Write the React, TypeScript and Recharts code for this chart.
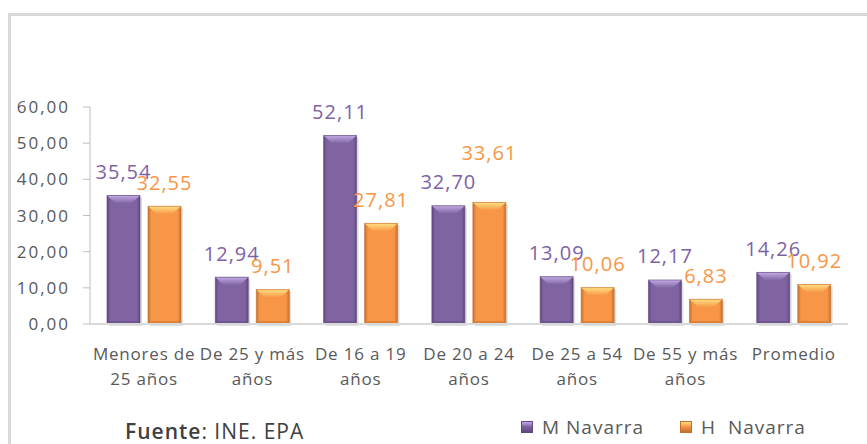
// Tasa de paro por edad, Navarra: mujeres vs hombres (barras biseladas estilo Excel 2007).
import { BarChart, Bar, XAxis, YAxis, LabelList } from "recharts";

const categories: string[][] = [
  ["Menores de", "25 años"],
  ["De 25 y más", "años"],
  ["De 16 a 19", "años"],
  ["De 20 a 24", "años"],
  ["De 25 a 54", "años"],
  ["De 55 y más", "años"],
  ["Promedio"],
];
const mNavarra = [35.54, 12.94, 52.11, 32.7, 13.09, 12.17, 14.26];
const hNavarra = [32.55, 9.51, 27.81, 33.61, 10.06, 6.83, 10.92];
const yTicks = [0, 10, 20, 30, 40, 50, 60];

const data = categories.map((c, i) => ({ cat: c.join(" "), m: mNavarra[i], h: hNavarra[i] }));

const FONT = "'Open Sans', sans-serif";
const GREY = "#595959";
const PURPLE = { base: "#8064A2", light: "#C2ABE4", dark: "#5E4880", text: "#7E62A6" };
const ORANGE = { base: "#F79646", light: "#FFE083", dark: "#C56F2C", text: "#F79646" };

const fmt = (v: number) => v.toFixed(2).replace(".", ",");

// barra con bisel: degradado lateral + faceta clara arriba
function bevel(pal: typeof PURPLE, id: string) {
  return (p: any) => {
    const { x, y, width: w, height: h } = p;
    if (!h || h <= 0) return <g />;
    const bx = Math.min(9, w / 3), by = Math.min(8, h / 2);
    return (
      <g>
        <rect x={x + 2} y={y + 2} width={w} height={h} fill="rgba(0,0,0,0.12)" />
        <rect x={x} y={y} width={w} height={h} fill={`url(#side-${id})`} />
        <polygon points={`${x},${y + h} ${x + 3},${y + h - 3} ${x + w - 3},${y + h - 3} ${x + w},${y + h}`} fill={pal.dark} opacity={0.5} />
        <polygon points={`${x},${y} ${x + w},${y} ${x + w - bx},${y + by} ${x + bx},${y + by}`} fill={`url(#top-${id})`} />
        <rect x={x} y={y} width={w} height={h} fill="none" stroke={pal.dark} strokeOpacity={0.6} strokeWidth={1} />
      </g>
    );
  };
}

// etiqueta 33,61 desplazada hacia arriba en el original
const labelLift: Record<string, number> = { "h-3": 26 };

function valueLabel(color: string, key: string) {
  return (p: any) => {
    const { x, y, width, value, index } = p;
    const lift = labelLift[`${key}-${index}`] ?? 0;
    return (
      <text x={x + width / 2} y={y - 24 - lift} textAnchor="middle" dominantBaseline="central"
            fill={color} fontSize={20} fontFamily={FONT} letterSpacing={1}>
        {fmt(Number(value))}
      </text>
    );
  };
}

function CatTick(p: any) {
  const { x, y, index } = p;
  const lines = categories[index] ?? [];
  return (
    <g>
      {lines.map((l, i) => (
        <text key={i} x={x} y={y + 29 + i * 25} textAnchor="middle" dominantBaseline="central"
              fill={GREY} fontSize={17} fontFamily={FONT} letterSpacing={0.8}>
          {l}
        </text>
      ))}
    </g>
  );
}

function LegendBox({ pal }: { pal: typeof PURPLE }) {
  return (
    <span style={{
      display: "inline-block", width: 10, height: 10, marginRight: 9,
      background: `linear-gradient(180deg, ${pal.light} 0%, ${pal.base} 45%, ${pal.dark} 100%)`,
      border: `1px solid ${pal.dark}`,
    }} />
  );
}

export default function App() {
  return (
    <div style={{ position: "fixed", left: 0, top: 0, width: 867, height: 444, background: "#fff", overflow: "hidden", fontFamily: FONT }}>
      <div style={{ position: "absolute", left: 8, top: 13, width: 900, height: 500, borderTop: "3px solid #D9D9D9", borderLeft: "3px solid #D9D9D9" }} />
      <div style={{ position: "absolute", left: 0, top: 0 }}>
        <BarChart width={867} height={444} data={data} barSize={33} barGap={8}
                  margin={{ top: 107, right: 19, bottom: 60, left: 0 }}>
          <defs>
            {[["m", PURPLE], ["h", ORANGE]].map(([id, pal]: any) => (
              <g key={id}>
                <linearGradient id={`side-${id}`} x1="0" y1="0" x2="1" y2="0">
                  <stop offset="0%" stopColor={pal.dark} />
                  <stop offset="10%" stopColor={pal.base} />
                  <stop offset="90%" stopColor={pal.base} />
                  <stop offset="100%" stopColor={pal.dark} />
                </linearGradient>
                <linearGradient id={`top-${id}`} x1="0" y1="0" x2="0" y2="1">
                  <stop offset="0%" stopColor={pal.light} />
                  <stop offset="100%" stopColor={pal.base} />
                </linearGradient>
              </g>
            ))}
          </defs>
          <XAxis dataKey="cat" axisLine={{ stroke: "#D9D9D9", strokeWidth: 2 }} tickLine={false}
                 tickSize={0} tickMargin={0} interval={0} height={60} tick={<CatTick />} />
          <YAxis domain={[0, 60]} ticks={yTicks} width={90} tickSize={7} tickMargin={13}
                 axisLine={{ stroke: "#BFBFBF" }} tickLine={{ stroke: "#BFBFBF" }}
                 tickFormatter={fmt} tick={{ fill: GREY, fontSize: 17, fontFamily: FONT, letterSpacing: 2 }} />
          <Bar dataKey="m" name="M Navarra" fill={PURPLE.base} shape={bevel(PURPLE, "m")} isAnimationActive={false}>
            <LabelList dataKey="m" content={valueLabel(PURPLE.text, "m")} />
          </Bar>
          <Bar dataKey="h" name="H  Navarra" fill={ORANGE.base} shape={bevel(ORANGE, "h")} isAnimationActive={false}>
            <LabelList dataKey="h" content={valueLabel(ORANGE.text, "h")} />
          </Bar>
        </BarChart>
      </div>
      <div style={{ position: "absolute", left: 125, top: 420, lineHeight: "22px", fontSize: 21, color: "#404040", letterSpacing: 1, whiteSpace: "nowrap" }}>
        <span style={{ fontWeight: 600 }}>Fuente</span>: INE. EPA
      </div>
      <div style={{ position: "absolute", left: 521, top: 416, lineHeight: "22px", fontSize: 19, color: GREY, letterSpacing: 1, whiteSpace: "pre", display: "flex", alignItems: "center" }}>
        <LegendBox pal={PURPLE} />M Navarra
        <span style={{ width: 36, display: "inline-block" }} />
        <LegendBox pal={ORANGE} />{"H  Navarra"}
      </div>
    </div>
  );
}
